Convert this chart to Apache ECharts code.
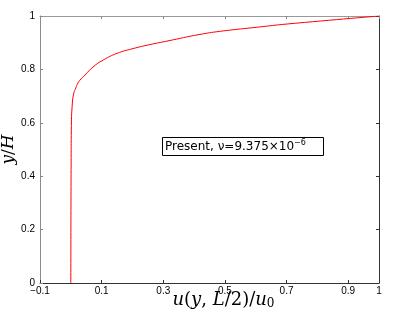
<!DOCTYPE html>
<html><head><meta charset="utf-8">
<script src="https://cdn.jsdelivr.net/npm/echarts@6/dist/echarts.min.js"></script>
<style>html,body{margin:0;padding:0;background:#fff}#c{width:399px;height:315px}</style>
</head><body><div id="c"></div>
<script>
// Velocity profile u(y, L/2)/u0 versus y/H
var uValues = [0.000, 0.0005, 0.001, 0.0016, 0.005, 0.010, 0.016, 0.023, 0.033, 0.046, 0.072, 0.105, 0.150, 0.202, 0.257, 0.312, 0.419, 0.494, 0.605, 0.702, 1.000];
var yValues = [0.000, 0.300, 0.450, 0.573, 0.674, 0.712, 0.730, 0.749, 0.764, 0.779, 0.809, 0.835, 0.860, 0.878, 0.893, 0.906, 0.931, 0.944, 0.958, 0.970, 1.000];
var xTickLabels = ['−0.1', '0.1', '0.3', '0.5', '0.7', '0.9', '1'];
var yTickLabels = ['0', '0.2', '0.4', '0.6', '0.8', '1'];
var seriesName = 'Present, ν=9.375×10';

var pts = uValues.map(function (u, i) { return [u, yValues[i]]; });
var chart = echarts.init(document.getElementById('c'), null, {renderer: 'canvas'});
function fmt(v) {
  var s = (Math.round(v * 10) / 10).toString();
  return s.replace('-', '−');
}
var labelFont = {fontFamily: 'Liberation Sans', fontSize: 10, color: '#000'};
var serifI = {fontFamily: 'DejaVu Serif', fontStyle: 'italic', fontSize: 17, color: '#000'};
var serifN = {fontFamily: 'DejaVu Serif', fontSize: 17, color: '#000'};
chart.setOption({
  animation: false,
  grid: {left: 40, right: 20, top: 16, bottom: 32, containLabel: false, outerBoundsMode: 'none'},
  xAxis: [{
    type: 'value', position: 'bottom', min: -0.1, max: 1, interval: 0.2,
    axisLine: {onZero: false, lineStyle: {color: '#333', width: 1}},
    axisTick: {inside: true, length: 3, lineStyle: {color: '#333'}},
    axisLabel: Object.assign({margin: 3, formatter: fmt}, labelFont),
    splitLine: {show: false},
    name: '{i|u}{n|(}{i|y}{n|, }{i|L}{n|/2)/}{i|u}{s|0}',
    nameLocation: 'middle', nameGap: 7, nameMoveOverlap: false,
    nameTextStyle: {
      padding: [0, 0, 0, 28],
      rich: {
        i: {fontFamily: 'DejaVu Serif', fontStyle: 'italic', fontSize: 18, color: '#000'},
        n: {fontFamily: 'DejaVu Serif', fontSize: 18, color: '#000'},
        s: {fontFamily: 'DejaVu Serif', fontSize: 12, color: '#000', verticalAlign: 'bottom', padding: [8, 0, 0, 0]}
      }
    }
  }, {
    type: 'value', position: 'top', min: -0.1, max: 1, interval: 0.2,
    axisLine: {onZero: false, lineStyle: {color: '#999', width: 1}},
    axisTick: {inside: true, length: 3, lineStyle: {color: '#888'}},
    axisLabel: {show: false}, splitLine: {show: false}
  }],
  yAxis: [{
    type: 'value', position: 'left', min: 0, max: 1, interval: 0.2,
    axisLine: {onZero: false, lineStyle: {color: '#8c8c8c', width: 1}},
    axisTick: {inside: true, length: 3, lineStyle: {color: '#888'}},
    axisLabel: Object.assign({margin: 5, formatter: fmt}, labelFont),
    splitLine: {show: false},
    name: '{i|y}{n|/}{i|H}', nameLocation: 'middle', nameGap: 23, nameRotate: 90, nameMoveOverlap: false,
    nameTextStyle: {rich: {i: serifI, n: serifN}}
  }, {
    type: 'value', position: 'right', min: 0, max: 1, interval: 0.2,
    axisLine: {onZero: false, lineStyle: {color: '#333', width: 1}},
    axisTick: {inside: true, length: 3, lineStyle: {color: '#333'}},
    axisLabel: {show: false}, splitLine: {show: false}
  }],
  series: [{
    type: 'line', name: seriesName, data: pts, xAxisIndex: 0, yAxisIndex: 0,
    showSymbol: false, smooth: 0.5,
    lineStyle: {color: '#ff0000', width: 1}
  }],
  graphic: [{
    type: 'rect', shape: {x: 162.5, y: 137.5, width: 161, height: 18},
    style: {fill: '#fff', stroke: '#000', lineWidth: 1}, z: 100
  }, {
    type: 'text', x: 165, y: 147, z: 101,
    style: {
      text: '{a|' + seriesName + '}{b|−6}',
      verticalAlign: 'middle',
      rich: {
        a: {fontFamily: 'DejaVu Sans', fontSize: 12, fill: '#000'},
        b: {fontFamily: 'DejaVu Sans', fontSize: 8, fill: '#000', verticalAlign: 'top', padding: [0, 0, 9, 0]}
      }
    }
  }]
});
</script></body></html>
